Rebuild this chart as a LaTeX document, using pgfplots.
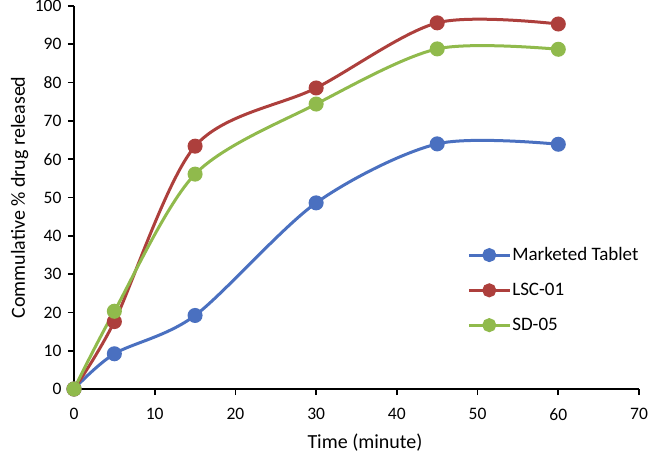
\documentclass[border=0pt]{standalone}
\usepackage{pgfplots}
\pgfplotsset{compat=1.18}
\usepackage{fontspec}
\setmainfont{Carlito}
\definecolor{cblue}{HTML}{4A70C0}
\definecolor{cred}{HTML}{AD3F3C}
\definecolor{cgreen}{HTML}{90BA4C}
\begin{document}
\begin{tikzpicture}
\useasboundingbox (-74bp,-66bp) rectangle (576bp,389bp);
\begin{axis}[
  at={(0,0)}, anchor=south west,
  scale only axis, width=565bp, height=383bp,
  xmin=0, xmax=70, ymin=0, ymax=100,
  xtick={0,10,...,70}, ytick={0,10,...,100},
  axis lines*=left,
  axis line style={line width=1.6bp, black},
  tick style={line width=1.6bp, black},
  tick align=outside, major tick length=6bp,
  tick label style={font=\fontsize{17.5bp}{20bp}\selectfont},
  xticklabel style={yshift=-10bp},
  yticklabel style={xshift=-3bp},
  /pgf/number format/assume math mode=true,
  xlabel={Time (minute)},
  ylabel={Commulative \% drug released},
  label style={font=\fontsize{20bp}{22bp}\selectfont},
  xlabel style={at={(axis description cs:0.515,-0.141)}, anchor=center},
  ylabel style={at={(axis description cs:-0.096,0.5)}, anchor=center},
  every axis plot/.append style={line width=3bp, smooth, mark=*, mark size=6bp},
  legend style={draw=none, fill=none, at={(axis cs:48.7,37.2)}, anchor=north west,
    font=\fontsize{19bp}{21bp}\selectfont, row sep=19bp, inner sep=0pt,
    nodes={inner sep=1bp}},
  legend cell align=left,
  legend image code/.code={\draw[#1, line width=3bp] (0bp,0bp) -- (41bp,0bp); \draw[#1, mark size=5.5bp] plot coordinates {(20.5bp,0bp)};},
  clip=false,
]
\addplot[cblue, mark options={fill=cblue}] coordinates {(0,0) (5,9.2) (15,19.2) (30,48.6) (45,64) (60,63.9)};
\addlegendentry{Marketed Tablet}
\addplot[cred, mark options={fill=cred}] coordinates {(0,0) (5,17.6) (15,63.4) (30,78.6) (45,95.6) (60,95.3)};
\addlegendentry{LSC-01}
\addplot[cgreen, mark options={fill=cgreen}] coordinates {(0,0) (5,20.3) (15,56.1) (30,74.4) (45,88.8) (60,88.7)};
\addlegendentry{SD-05}
\end{axis}
\end{tikzpicture}
\end{document}
